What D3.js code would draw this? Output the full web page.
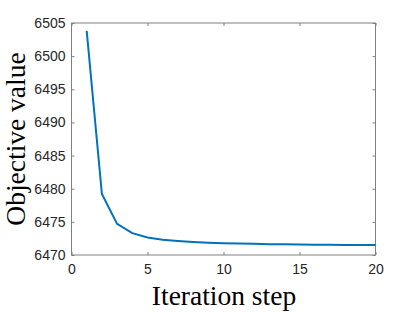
<!DOCTYPE html>
<html><head><meta charset="utf-8">
<script src="https://cdn.jsdelivr.net/npm/d3@7"></script>
<style>body{margin:0;background:#fff;}svg{display:block;}</style>
</head><body>
<script>
const iterations = [1,2,3,4,5,6,7,8,9,10,11,12,13,14,15,16,17,18,19,20];
const objective = [6503.8,6479.2,6474.7,6473.3,6472.65,6472.3,6472.1,6471.95,6471.85,6471.77,6471.72,6471.68,6471.64,6471.61,6471.58,6471.56,6471.54,6471.52,6471.51,6471.5];
const xTicks = [0,5,10,15,20];
const yTicks = [6470,6475,6480,6485,6490,6495,6500,6505];

const W=415,H=312;
const m={l:71.5,t:23,r:375.5,b:255};
const svg=d3.select("body").append("svg").attr("width",W).attr("height",H);
const x=d3.scaleLinear().domain([0,20]).range([m.l,m.r]);
const y=d3.scaleLinear().domain([6470,6505]).range([m.b,m.t]);
const axisColor="#808080";
const tickFont="'Liberation Sans', Arial, sans-serif";

svg.append("rect").attr("x",m.l).attr("y",m.t).attr("width",m.r-m.l).attr("height",m.b-m.t)
  .attr("fill","none").attr("stroke",axisColor).attr("stroke-width",1);

const tl=3;
function styleAxis(g){g.select(".domain").remove();g.selectAll(".tick line").attr("stroke",axisColor);
  g.selectAll(".tick text").attr("fill","#262626").style("font-family",tickFont).style("font-size","14px");}

svg.append("g").attr("transform",`translate(0,${m.b})`)
  .call(d3.axisBottom(x).tickValues(xTicks).tickSize(-tl).tickPadding(9).tickFormat(d3.format("d"))).call(styleAxis);
svg.append("g").attr("transform",`translate(0,${m.t})`)
  .call(d3.axisTop(x).tickValues(xTicks).tickSize(-tl).tickFormat("")).call(styleAxis);
svg.append("g").attr("transform",`translate(${m.l},0)`)
  .call(d3.axisLeft(y).tickValues(yTicks).tickSize(-tl).tickPadding(6).tickFormat(d3.format("d"))).call(styleAxis);
svg.append("g").attr("transform",`translate(${m.r},0)`)
  .call(d3.axisRight(y).tickValues(yTicks).tickSize(-tl).tickFormat("")).call(styleAxis);

svg.append("path").datum(iterations.map((d,i)=>[d,objective[i]]))
  .attr("fill","none").attr("stroke","#0072BD").attr("stroke-width",2)
  .attr("d",d3.line().x(d=>x(d[0])).y(d=>y(d[1])));

svg.append("text").attr("x",224).attr("y",305).attr("text-anchor","middle")
  .style("font-family","'Liberation Serif', 'Times New Roman', serif").style("font-size","27.5px").attr("fill","#000")
  .text("Iteration step");
svg.append("text").attr("transform",`translate(25,139) rotate(-90)`).attr("text-anchor","middle")
  .style("font-family","'Liberation Serif', 'Times New Roman', serif").style("font-size","27.5px").attr("fill","#000")
  .text("Objective value");
</script>
</body></html>
